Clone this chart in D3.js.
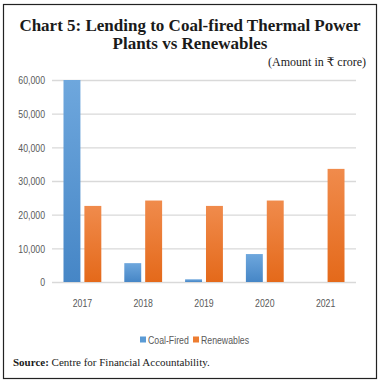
<!DOCTYPE html>
<html><head><meta charset="utf-8">
<script src="https://cdn.jsdelivr.net/npm/d3@7"></script>
<style>body{margin:0;background:#fff}svg{display:block}</style>
</head><body>
<svg id="c" width="380" height="384"></svg>
<script>
const years = ["2017","2018","2019","2020","2021"];
const coalFired = [60000, 5600, 800, 8300, 0];
const renewables = [22600, 24200, 22600, 24200, 33600];
const seriesNames = ["Coal-Fired","Renewables"];
const yTicks = [0,10000,20000,30000,40000,50000,60000];

const svg = d3.select("#c");
const defs = svg.append("defs");
function grad(id, top, bot){
  const g = defs.append("linearGradient").attr("id",id).attr("x1",0).attr("y1",0).attr("x2",0).attr("y2",1);
  g.append("stop").attr("offset","0%").attr("stop-color",top);
  g.append("stop").attr("offset","100%").attr("stop-color",bot);
}
grad("gb","#6ea7dd","#4686c6");
grad("go","#f08b4c","#e4691a");

svg.append("rect").attr("x",3.5).attr("y",4.5).attr("width",373).attr("height",374)
  .attr("fill","#fff").attr("stroke","#222").attr("stroke-width",1.2);

const serif = "'Liberation Serif','DejaVu Serif',serif";
const sans = "'Liberation Sans',Arial,sans-serif";
const SX = 0.76;

svg.append("text").attr("x",190).attr("y",31).attr("text-anchor","middle")
  .attr("font-family",serif).attr("font-weight","bold").attr("font-size",17).attr("fill","#1a1a1a")
  .text("Chart 5: Lending to Coal-fired Thermal Power");
svg.append("text").attr("x",190).attr("y",49).attr("text-anchor","middle")
  .attr("font-family",serif).attr("font-weight","bold").attr("font-size",17).attr("fill","#1a1a1a")
  .text("Plants vs Renewables");
svg.append("text").attr("x",366).attr("y",66).attr("text-anchor","end")
  .attr("font-family",serif).attr("font-size",12).attr("fill","#1a1a1a")
  .text("(Amount in ₹ crore)");

const x0 = d3.scaleBand().domain(years).range([52,356]).paddingInner(0).paddingOuter(0);
const x1 = d3.scaleBand().domain(seriesNames).range([0,x0.bandwidth()]).paddingInner(0.19).paddingOuter(0.55);
const y = d3.scaleLinear().domain([0,60000]).range([282,80]);

const yAxis = d3.axisLeft(y).tickValues(yTicks).tickSize(-(356-52)).tickFormat(d3.format(","));
const gy = svg.append("g").attr("transform","translate(52,0)").call(yAxis);
gy.select(".domain").remove();
gy.selectAll(".tick line").attr("stroke","#d9d9d9").attr("stroke-width",1.3);
gy.selectAll(".tick text").attr("x",-7/SX).attr("transform",`scale(${SX},1)`)
  .attr("font-family",sans).attr("font-size",11.5).attr("fill","#595959");

const xAxis = d3.axisBottom(x0).tickSize(0).tickPadding(16);
const gx = svg.append("g").attr("transform","translate(0,283)").call(xAxis);
gx.select(".domain").remove();
gx.selectAll(".tick text").attr("transform",`scale(${SX},1)`)
  .attr("font-family",sans).attr("font-size",11.5).attr("fill","#595959");

const data = years.map((yr,i)=>({yr, vals:[{s:"Coal-Fired",v:coalFired[i]},{s:"Renewables",v:renewables[i]}]}));
const groups = svg.append("g").selectAll("g").data(data).join("g")
  .attr("transform",d=>`translate(${x0(d.yr)},0)`);
groups.selectAll("rect").data(d=>d.vals.filter(e=>e.v>0)).join("rect")
  .attr("x",d=>x1(d.s)).attr("width",x1.bandwidth())
  .attr("y",d=>y(d.v)).attr("height",d=>y(0)-y(d.v))
  .attr("fill",d=>d.s==="Coal-Fired"?"url(#gb)":"url(#go)");

const leg = svg.append("g");
const legItems = [{s:"Coal-Fired",x:140,c:"#5b9bd5"},{s:"Renewables",x:193,c:"#ed7d31"}];
legItems.forEach(it=>{
  leg.append("rect").attr("x",it.x).attr("y",336.5).attr("width",6).attr("height",6).attr("fill",it.c);
  leg.append("g").attr("transform",`translate(${it.x+8},344) scale(${SX},1)`)
    .append("text").attr("font-family",sans).attr("font-size",11.5).attr("fill","#595959").text(it.s);
});

const src = svg.append("text").attr("x",13).attr("y",366).attr("font-family",serif).attr("font-size",11).attr("fill","#1a1a1a");
src.append("tspan").attr("font-weight","bold").text("Source:");
src.append("tspan").text(" Centre for Financial Accountability.");
</script>
</body></html>
